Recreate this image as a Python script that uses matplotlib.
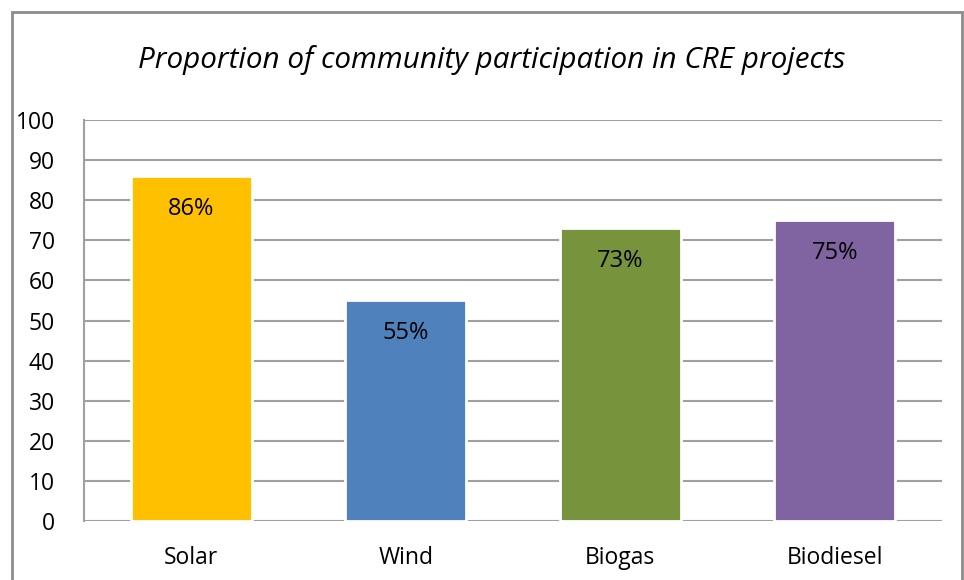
import matplotlib
matplotlib.use("Agg")
import matplotlib.pyplot as plt
from matplotlib.patches import Rectangle

categories = ["Solar", "Wind", "Biogas", "Biodiesel"]
values = [86, 55, 73, 75]
labels = ["86%", "55%", "73%", "75%"]
colors = ["#FFC000", "#4F81BD", "#77933C", "#8064A2"]
yticks = list(range(0, 101, 10))

W, H = 964, 580
fig = plt.figure(figsize=(W / 100, H / 100), dpi=100)
fig.patch.set_facecolor("white")

# outer chart frame
fig.add_artist(Rectangle((12 / W, -0.1), (962 - 12) / W, 1.1 - 12 / H,
                         transform=fig.transFigure, fill=False,
                         edgecolor="#8c8c8c", linewidth=2))

left, right, top, bottom = 84, 942, 120, 521
ax = fig.add_axes([left / W, 1 - bottom / H, (right - left) / W, (bottom - top) / H])

x = range(len(categories))
ax.bar(x, values, width=0.565, color=colors, edgecolor="white", linewidth=2, zorder=3)
ax.set_xlim(-0.5, len(categories) - 0.5)
ax.set_ylim(0, 100)
ax.set_yticks(yticks)
ax.set_yticklabels([str(t) for t in yticks])
ax.set_xticks(list(x))
ax.set_xticklabels(categories)

font = "Open Sans"
for lab in ax.get_yticklabels():
    lab.set_fontfamily(font)
    lab.set_fontsize(16.5)
for lab in ax.get_xticklabels():
    lab.set_fontfamily(font)
    lab.set_fontsize(16.5)

ax.tick_params(axis="y", length=0, pad=21)
ax.tick_params(axis="x", length=0, pad=18)
ax.yaxis.grid(True, color="#a0a0a0", linewidth=1.5, zorder=0)
ax.set_axisbelow(True)
for s in ["top", "right", "bottom"]:
    ax.spines[s].set_visible(False)
ax.spines["left"].set_color("#a0a0a0")
ax.spines["left"].set_linewidth(1.5)

for i, (v, lab) in enumerate(zip(values, labels)):
    ax.annotate(lab, (i, v), xytext=(0, -33), textcoords="offset pixels",
                ha="center", va="center", fontsize=17, fontfamily=font, zorder=4)

fig.text(492 / W, 1 - 60 / H, "Proportion of community participation in CRE projects",
         ha="center", va="center", fontsize=21.3, style="italic", fontfamily=font)

fig.savefig("out.png", dpi=100)
